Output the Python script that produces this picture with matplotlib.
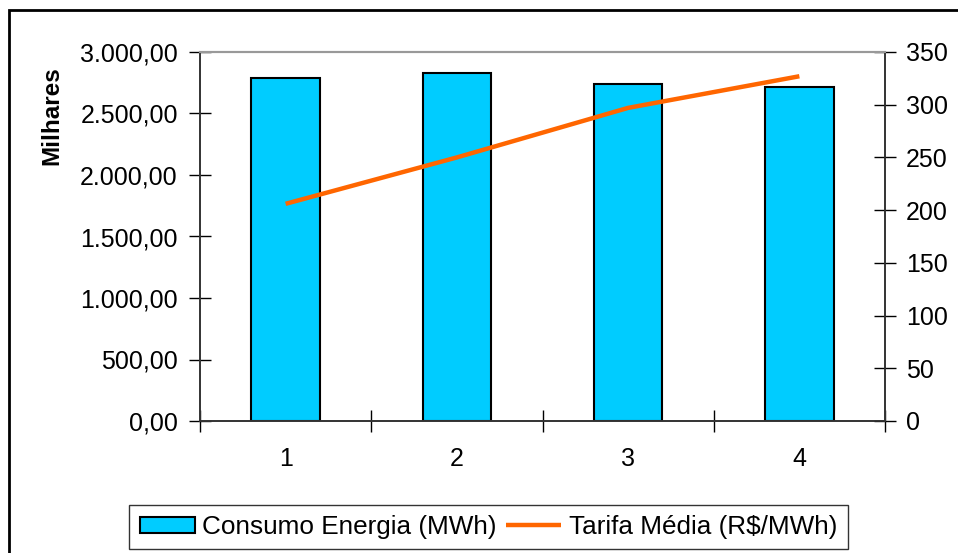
import matplotlib.pyplot as plt
from matplotlib.patches import Rectangle
from matplotlib.ticker import FuncFormatter, FixedLocator

plt.rcParams['font.family'] = ['Liberation Sans', 'DejaVu Sans']

# data
categories = ['1', '2', '3', '4']
consumo = [2789, 2832, 2740, 2718]      # MWh (milhares)
tarifa = [206, 250, 297, 327]           # R$/MWh

BAR_COLOR = '#00CCFF'
LINE_COLOR = '#FF6600'
FS = 18


def fmt_br(v, pos):
    # 3000 -> "3.000,00"
    s = '{:,.2f}'.format(v)
    return s.replace(',', 'X').replace('.', ',').replace('X', '.')


fig = plt.figure(figsize=(9.58, 5.53), dpi=100)
ax = fig.add_axes([200/958, 1-421/553, 685/958, 369/553])
ax2 = ax.twinx()

x = list(range(len(categories)))
bars = ax.bar(x, consumo, width=0.40, color=BAR_COLOR, edgecolor='black',
              linewidth=1.5, label='Consumo Energia (MWh)', zorder=2)
line, = ax2.plot(x, tarifa, color=LINE_COLOR, linewidth=3.2,
                 label='Tarifa Média (R$/MWh)', solid_capstyle='butt')

ax.set_xlim(-0.5, 3.5)
ax.set_ylim(0, 3000)
ax2.set_ylim(0, 350)

ax.set_yticks([0, 500, 1000, 1500, 2000, 2500, 3000])
ax.yaxis.set_major_formatter(FuncFormatter(fmt_br))
ax2.set_yticks(range(0, 351, 50))

# category boundaries get ticks, labels sit at the centres
ax.xaxis.set_major_locator(FixedLocator([-0.5, 0.5, 1.5, 2.5, 3.5]))
ax.xaxis.set_minor_locator(FixedLocator(x))
ax.set_xticklabels([], minor=False)
ax.set_xticklabels(categories, minor=True)
ax.tick_params(axis='x', which='minor', length=0, pad=19, labelsize=FS)
ax.tick_params(axis='x', which='major', direction='inout', length=16, width=1)
ax.tick_params(axis='y', direction='inout', length=16, width=1, labelsize=FS, pad=8)
ax2.tick_params(axis='y', direction='inout', length=16, width=1, labelsize=FS, pad=7)

for a in (ax, ax2):
    for s in a.spines.values():
        s.set_linewidth(1.2)
        s.set_color('#333333')
    a.spines['top'].set_color('#999999')
    a.spines['top'].set_linewidth(1.5)

# y label sits high up, not centred on the axis
fig.text(52/958, 1-116/553, 'Milhares', rotation=90, fontsize=17.5,
         fontweight='bold', ha='center', va='center')

leg = fig.legend([bars, line], ['Consumo Energia (MWh)', 'Tarifa Média (R$/MWh)'],
                 loc='center', bbox_to_anchor=(488.5/958, 1-527/553), ncol=2,
                 prop={'size': 18.8}, frameon=True, fancybox=False, edgecolor='black',
                 borderpad=0.4, handlelength=2.1, handletextpad=0.3,
                 columnspacing=0.35, handleheight=0.55, borderaxespad=0)
leg.get_frame().set_linewidth(1.0)

# outer chart border (runs off the right/bottom edge)
fig.patches.append(Rectangle((9/958, -0.1), 1.0, 1-10/553+0.1, transform=fig.transFigure,
                             fill=False, edgecolor='black', linewidth=2))

fig.savefig('out.png', dpi=100)
